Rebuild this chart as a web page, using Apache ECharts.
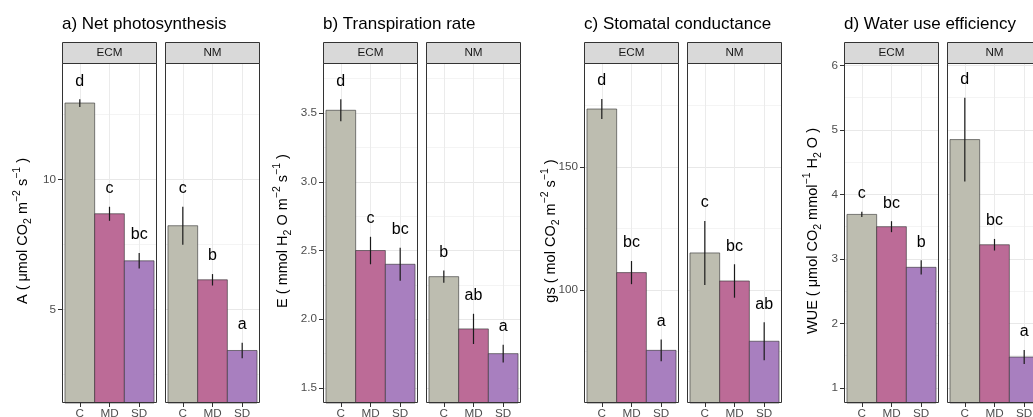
<!DOCTYPE html>
<html><head><meta charset="utf-8">
<script src="https://cdn.jsdelivr.net/npm/echarts@6/dist/echarts.min.js"></script>
<style>html,body{margin:0;padding:0;background:#fff}#c{width:1033px;height:417px}</style>
</head><body><div id="c"></div>
<script>
// ---- data ----
const categories = ['C', 'MD', 'SD'];
const facets = ['ECM', 'NM'];
const panelTitles = ['a) Net photosynthesis', 'b) Transpiration rate', 'c) Stomatal conductance', 'd) Water use efficiency'];

const A_ECM_mean = [12.95, 8.69, 6.88], A_ECM_se = [0.15, 0.27, 0.30], A_ECM_letters = ['d', 'c', 'bc'];
const A_NM_mean  = [8.23, 6.15, 3.43],  A_NM_se  = [0.73, 0.22, 0.30], A_NM_letters  = ['c', 'b', 'a'];

const B_ECM_mean = [3.52, 2.50, 2.40], B_ECM_se = [0.08, 0.10, 0.12], B_ECM_letters = ['d', 'c', 'bc'];
const B_NM_mean  = [2.31, 1.93, 1.75], B_NM_se  = [0.045, 0.11, 0.065], B_NM_letters = ['b', 'ab', 'a'];

const C_ECM_mean = [173.5, 107.0, 75.4], C_ECM_se = [4.1, 4.7, 4.4], C_ECM_letters = ['d', 'bc', 'a'];
const C_NM_mean  = [115.0, 103.6, 79.1], C_NM_se  = [13.0, 6.8, 7.7], C_NM_letters = ['c', 'bc', 'ab'];

const D_ECM_mean = [3.69, 3.50, 2.87], D_ECM_se = [0.04, 0.085, 0.11], D_ECM_letters = ['c', 'bc', 'b'];
const D_NM_mean  = [4.85, 3.22, 1.48], D_NM_se  = [0.65, 0.09, 0.11], D_NM_letters = ['d', 'bc', 'a'];

const A_ticks = [5, 10],                 A_minor = [2.5, 7.5, 12.5];
const B_ticks = [1.5, 2.0, 2.5, 3.0, 3.5], B_minor = [1.75, 2.25, 2.75, 3.25, 3.75];
const C_ticks = [100, 150],              C_minor = [75, 125, 175];
const D_ticks = [1, 2, 3, 4, 5, 6],      D_minor = [1.5, 2.5, 3.5, 4.5, 5.5];

const A_title = '{n|A ( μmol CO}{sub|2}{n| m}{sup|−2}{n| s}{sup|−1}{n| )}';
const B_title = '{n|E ( mmol H}{sub|2}{n| O m}{sup|−2}{n| s}{sup|−1}{n| )}';
const C_title = '{n|gs ( mol CO}{sub|2}{n| m}{sup|−2}{n| s}{sup|−1}{n| )}';
const D_title = '{n|WUE ( μmol CO}{sub|2}{n| mmol}{sup|−1}{n| H}{sub|2}{n| O )}';

// ---- layout / style ----
const FONT = 'Liberation Sans, Arial, Helvetica, sans-serif';
const barColors = ['#bdbdb0', '#bc6b97', '#a87fbf'];
const TOP = 63, H = 340, W = 95, STRIP_H = 21;
const panels = [
  { left: [62, 165],  min: 1.41, max: 14.49, ticks: A_ticks, minor: A_minor, dec: 0,
    data: [[A_ECM_mean, A_ECM_se, A_ECM_letters], [A_NM_mean, A_NM_se, A_NM_letters]], ytitle: A_title, tx: 23 },
  { left: [323, 426], min: 1.391, max: 3.864, ticks: B_ticks, minor: B_minor, dec: 1,
    data: [[B_ECM_mean, B_ECM_se, B_ECM_letters], [B_NM_mean, B_NM_se, B_NM_letters]], ytitle: B_title, tx: 283 },
  { left: [584, 687], min: 54.0, max: 192.2, ticks: C_ticks, minor: C_minor, dec: 0,
    data: [[C_ECM_mean, C_ECM_se, C_ECM_letters], [C_NM_mean, C_NM_se, C_NM_letters]], ytitle: C_title, tx: 551 },
  { left: [844, 947], min: 0.767, max: 6.037, ticks: D_ticks, minor: D_minor, dec: 0,
    data: [[D_ECM_mean, D_ECM_se, D_ECM_letters], [D_NM_mean, D_NM_se, D_NM_letters]], ytitle: D_title, tx: 813 }
];

const grid = [], xAxis = [], yAxis = [], series = [], graphic = [];

function makeRender(letters, yMin) {
  return function (params, api) {
    const i = params.dataIndex;
    const x = api.value(0), m = api.value(1), s = api.value(2);
    const tl = api.coord([x - 0.5, m]);
    const br = api.coord([x + 0.5, yMin]);
    const eTop = api.coord([x, m + s]);
    const eBot = api.coord([x, m - s]);
    return { type: 'group', children: [
      { type: 'rect', shape: { x: tl[0], y: tl[1], width: br[0] - tl[0], height: br[1] - tl[1] },
        style: { fill: barColors[i], stroke: 'rgba(45,45,45,0.85)', lineWidth: 0.7 } },
      { type: 'line', shape: { x1: eTop[0], y1: eTop[1], x2: eBot[0], y2: eBot[1] },
        style: { stroke: '#1a1a1a', lineWidth: 1.2 } },
      { type: 'text', x: eTop[0], y: eTop[1] - 10,
        style: { text: letters[i], fontSize: 16, fontFamily: FONT, fill: '#000', align: 'center', verticalAlign: 'bottom' } }
    ] };
  };
}

panels.forEach((p, pi) => {
  graphic.push({ type: 'text', x: p.left[0], y: 24, z: 100,
    style: { text: panelTitles[pi], fontSize: 17, fontFamily: FONT, fill: '#000', align: 'left', verticalAlign: 'middle' } });
  graphic.push({ type: 'text', x: p.tx, y: 231, rotation: Math.PI / 2, z: 100,
    style: { text: p.ytitle, align: 'center', verticalAlign: 'middle',
      rich: {
        n: { fontSize: 14.5, fontFamily: FONT, fill: '#000', lineHeight: 22 },
        sub: { fontSize: 10.5, fontFamily: FONT, fill: '#000', verticalAlign: 'bottom', lineHeight: 14 },
        sup: { fontSize: 10.5, fontFamily: FONT, fill: '#000', verticalAlign: 'top', lineHeight: 12 }
      } } });
  facets.forEach((f, fi) => {
    const g = grid.length;
    const left = p.left[fi];
    grid.push({ left: left, top: TOP, width: W, height: H, containLabel: false, outerBoundsMode: 'none' });
    xAxis.push({ gridIndex: g, type: 'value', min: 0.4, max: 3.6,
      axisLine: { show: false },
      axisTick: { show: true, customValues: [1, 2, 3], length: 4, lineStyle: { color: '#333', width: 1 } },
      axisLabel: { show: true, customValues: [1, 2, 3], formatter: v => categories[Math.round(v) - 1] || '',
        color: '#4d4d4d', fontSize: 11.7, fontFamily: FONT, margin: 5 },
      splitLine: { show: true, lineStyle: { color: '#ebebeb', width: 1 } } });
    const yMajor = yAxis.length;
    yAxis.push({ gridIndex: g, type: 'value', min: p.min, max: p.max, position: 'left',
      axisLine: { show: false },
      axisTick: { show: fi === 0, customValues: p.ticks, length: 4, lineStyle: { color: '#333', width: 1 } },
      axisLabel: { show: fi === 0, customValues: p.ticks, formatter: v => Number(v).toFixed(p.dec),
        color: '#4d4d4d', fontSize: 11.7, fontFamily: FONT, margin: 6 },
      splitLine: { show: true, lineStyle: { color: '#e8e8e8', width: 1 } } });
    yAxis.push({ gridIndex: g, type: 'value', min: p.min, max: p.max, position: 'left',
      axisLine: { show: false },
      axisTick: { show: false, customValues: p.minor },
      axisLabel: { show: false, customValues: p.minor },
      splitLine: { show: true, lineStyle: { color: '#f4f4f4', width: 1 } } });
    const [mean, se, letters] = p.data[fi];
    series.push({ type: 'custom', xAxisIndex: g, yAxisIndex: yMajor, clip: false, z: 5,
      data: categories.map((c, i) => [i + 1, mean[i], se[i]]),
      renderItem: makeRender(letters, p.min) });
    graphic.push({ type: 'rect', z: 100, shape: { x: left + 0.5, y: TOP + 0.5, width: W - 1, height: H - 1 },
      style: { fill: null, stroke: '#333', lineWidth: 1 } });
    graphic.push({ type: 'rect', z: 100, shape: { x: left + 0.5, y: TOP - STRIP_H + 0.5, width: W - 1, height: STRIP_H },
      style: { fill: '#d9d9d9', stroke: '#333', lineWidth: 1 } });
    graphic.push({ type: 'text', z: 101, x: left + W / 2, y: TOP - STRIP_H / 2 + 0.5,
      style: { text: f, fontSize: 11.7, fontFamily: FONT, fill: '#1a1a1a', align: 'center', verticalAlign: 'middle' } });
  });
});

const chart = echarts.init(document.getElementById('c'), null, { renderer: 'canvas' });
chart.setOption({ backgroundColor: '#fff', animation: false, grid, xAxis, yAxis, series, graphic });
</script></body></html>
